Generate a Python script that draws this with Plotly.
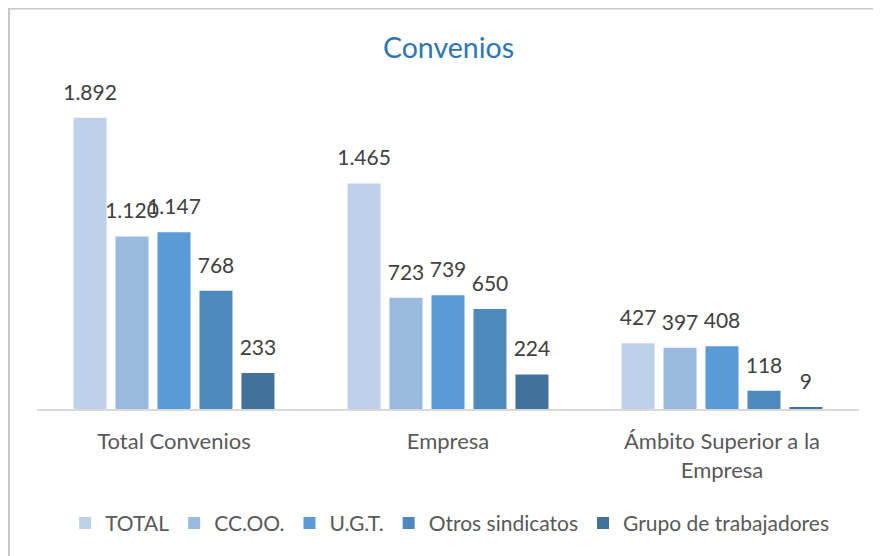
import plotly.graph_objects as go

# chart data
categories = ['Total Convenios', 'Empresa', 'Ámbito Superior a la<br>Empresa']
series_names = ['TOTAL', 'CC.OO.', 'U.G.T.', 'Otros sindicatos', 'Grupo de trabajadores']
total = [1892, 1465, 427]
ccoo = [1120, 723, 397]
ugt = [1147, 739, 408]
otros = [768, 650, 118]
grupo = [233, 224, 9]
series_values = [total, ccoo, ugt, otros, grupo]
colors = ['#BDD1EA', '#99B9DF', '#5B9BD5', '#4E89BB', '#41719C']

FONT = 'Lato'


def fmt(v: int) -> str:
    """Spanish thousands separator"""
    return f'{v:,}'.replace(',', '.')


fig = go.Figure()

for name, vals, col in zip(series_names, series_values, colors):
    fig.add_trace(go.Bar(x=categories, y=vals, name=name, marker_color=col,
                         marker_line_width=0, offsetgroup=name))

# value labels, grouped like the bars so they sit over each one
for name, vals in zip(series_names, series_values):
    fig.add_trace(go.Scatter(x=categories, y=vals, mode='markers+text', offsetgroup=name,
                             text=[fmt(v) for v in vals], textposition='top center',
                             textfont=dict(family=FONT, size=21, color='#404040'),
                             marker=dict(size=19, color='rgba(0,0,0,0)'),
                             showlegend=False, hoverinfo='skip', cliponaxis=False))

# the page puts the figure 8px in from the top-left, margins account for it
fig.update_layout(
    width=881, height=556,
    margin=dict(l=29, r=30, t=93, b=155),
    paper_bgcolor='white', plot_bgcolor='white',
    barmode='group', scattermode='group',
    bargap=0.234, bargroupgap=0.214, scattergap=0.234,
    font=dict(family=FONT, color='#595959'),
    title=dict(text='Convenios', x=0.5, xanchor='center', y=0.928, yanchor='middle',
               font=dict(family=FONT, size=28.5, color='#2E75B6')),
    legend=dict(orientation='h', x=0.502, xanchor='center', y=-0.371, yanchor='middle',
                font=dict(family=FONT, size=21, color='#595959')),
    showlegend=True,
)
fig.update_xaxes(showline=True, linecolor='#D9D9D9', linewidth=2,
                 tickfont=dict(family=FONT, size=22, color='#595959'),
                 ticks='outside', ticklen=12, tickcolor='rgba(0,0,0,0)')
fig.update_yaxes(range=[0, 2000], visible=False, showgrid=False)

# outer chart border (runs off the right and bottom edges)
fig.add_shape(type='rect', xref='paper', yref='paper', x0=-0.034, x1=1.2, y0=-0.8, y1=1.3,
              line=dict(color='#C8C8C8', width=2), layer='below')

fig.write_html('out.html')
